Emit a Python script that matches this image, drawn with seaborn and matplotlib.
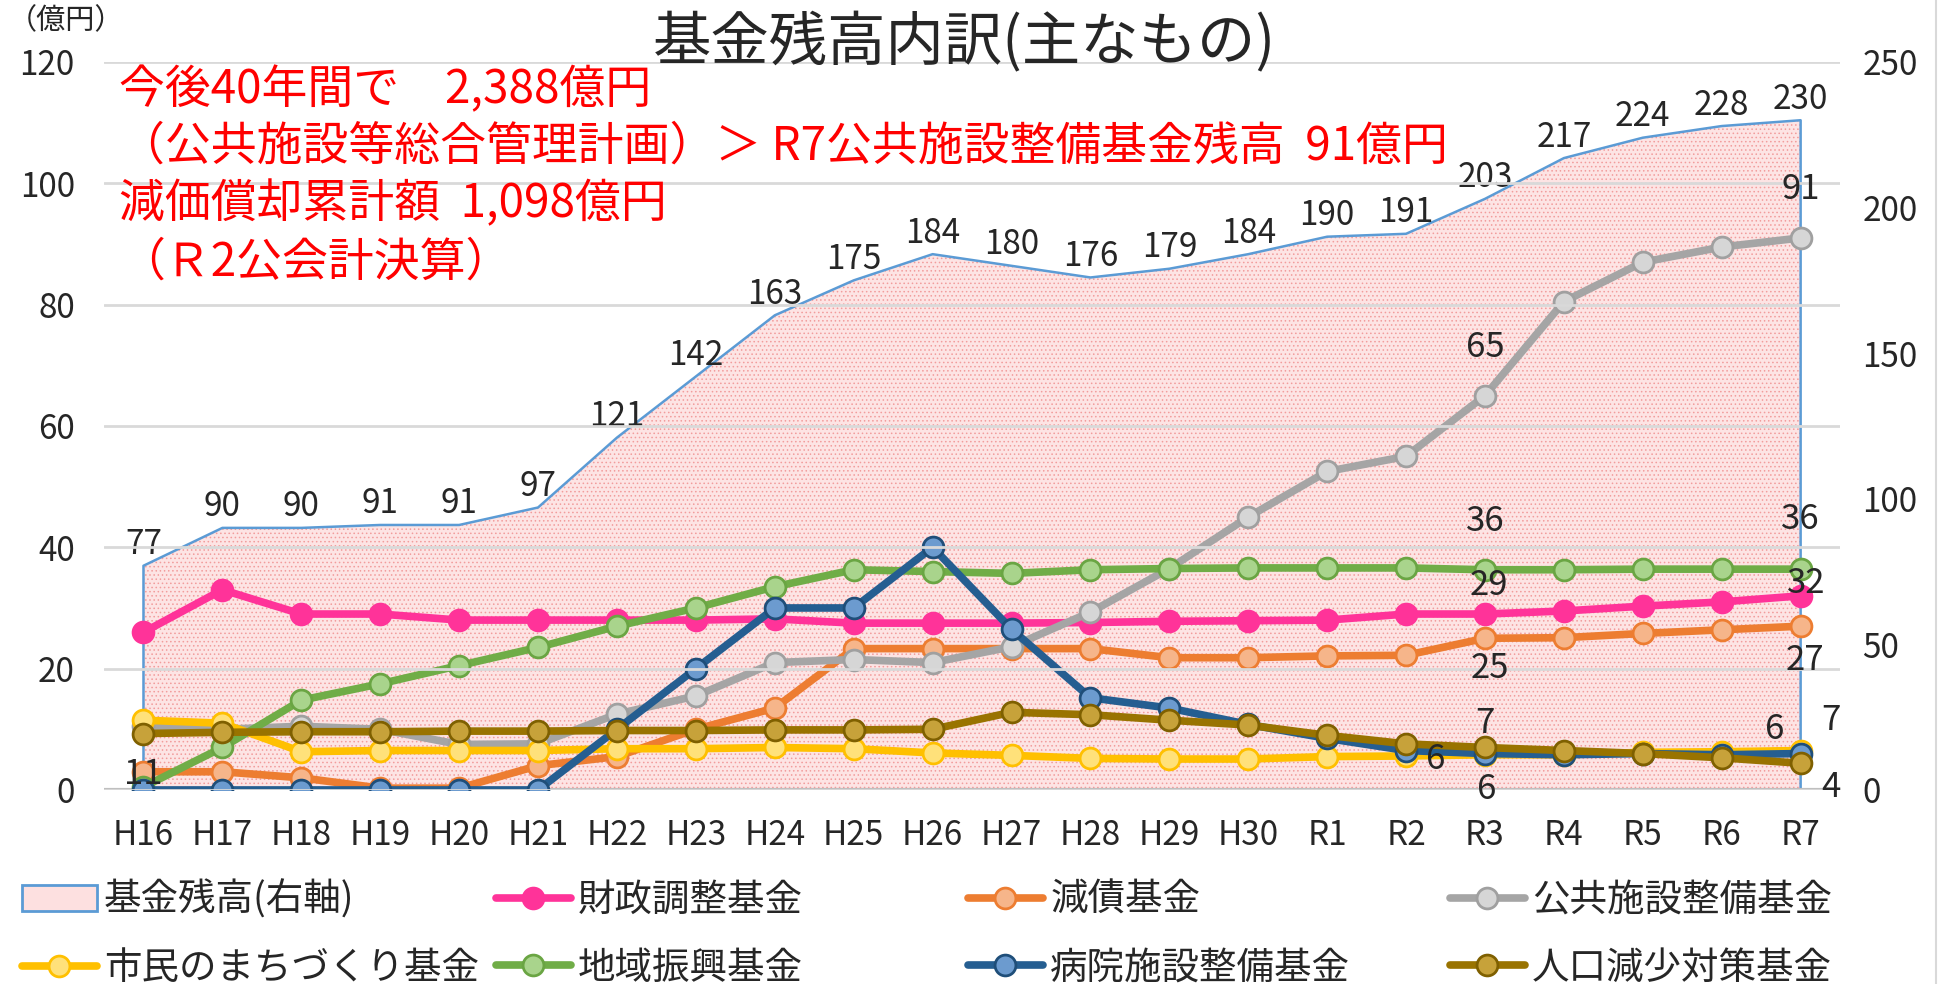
import matplotlib
matplotlib.use("Agg")
import matplotlib.pyplot as plt
import seaborn as sns
from matplotlib.patches import Rectangle
from matplotlib.lines import Line2D

# categories (fiscal years)
years = ['H16', 'H17', 'H18', 'H19', 'H20', 'H21', 'H22', 'H23', 'H24', 'H25', 'H26',
         'H27', 'H28', 'H29', 'H30', 'R1', 'R2', 'R3', 'R4', 'R5', 'R6', 'R7']

# total fund balance (right axis)
total = [77, 90, 90, 91, 91, 97, 121, 142, 163, 175, 184, 180, 176, 179, 184, 190, 191, 203, 217, 224, 228, 230]

# individual funds (left axis)
zaisei = [26, 33, 29, 29, 28, 28, 28, 28, 28.2, 27.5, 27.5, 27.5, 27.6, 27.8, 27.9, 28, 29, 29, 29.5, 30.3, 31, 32]
gensai = [3, 3, 2, 0.3, 0.3, 4, 5.5, 10, 13.5, 23.3, 23.3, 23.3, 23.3, 21.8, 21.8, 22.1, 22.2, 25, 25.1, 25.8, 26.4, 27]
koukyou = [10.5, 10, 10.5, 10, 7.5, 7.6, 12.5, 15.5, 21, 21.5, 21, 23.6, 29.3, 36.5, 45, 52.5, 55, 65, 80.5, 87, 89.5, 91]
machi = [11.5, 11, 6.3, 6.5, 6.5, 6.5, 6.8, 6.8, 7, 6.8, 6.1, 5.7, 5.2, 5.1, 5.1, 5.5, 5.6, 5.8, 5.8, 6.2, 6.3, 6.5]
chiiki = [0.5, 7, 14.8, 17.5, 20.5, 23.5, 27, 30, 33.5, 36.3, 36, 35.7, 36.3, 36.5, 36.6, 36.6, 36.6, 36.3, 36.3, 36.4, 36.4, 36.4]
byouin = [0, 0, 0, 0, 0, 0, 10, 20, 30, 30, 40, 26.5, 15.2, 13.5, 10.8, 8.5, 6.5, 6, 5.8, 6, 5.8, 6]
jinkou = [9.3, 9.5, 9.6, 9.6, 9.7, 9.7, 9.8, 9.8, 9.9, 9.9, 10, 12.8, 12.4, 11.5, 10.7, 9, 7.6, 7, 6.5, 6, 5.3, 4.4]

note_lines = ['今後40年間で　2,388億円',
              '（公共施設等総合管理計画）＞ R7公共施設整備基金残高  91億円',
              '減価償却累計額  1,098億円',
              '（Ｒ2公会計決算）']

x_pos = list(range(len(years)))

# name, values, line colour, marker face, marker edge
series = [
    ('財政調整基金', zaisei, '#FF3399', '#FF3399', '#FF3399'),
    ('減債基金', gensai, '#ED7D31', '#F6B58A', '#ED7D31'),
    ('公共施設整備基金', koukyou, '#A5A5A5', '#D6D6D6', '#A0A0A0'),
    ('市民のまちづくり基金', machi, '#FFC000', '#FFE17A', '#FFC000'),
    ('地域振興基金', chiiki, '#70AD47', '#A9D48C', '#6AA543'),
    ('病院施設整備基金', byouin, '#255E91', '#6C9BCF', '#1F4E79'),
    ('人口減少対策基金', jinkou, '#997300', '#C7A23A', '#7F6000'),
]

sns.set_style('white')
plt.rcParams['font.family'] = ['Noto Sans CJK JP', 'DejaVu Sans']
plt.rcParams['hatch.linewidth'] = 0.6

fig = plt.figure(figsize=(19.59, 9.84), dpi=100)
ax = fig.add_axes([0.0531, 0.1972, 0.8862, 0.7398])
ax2 = ax.twinx()
ax.set_zorder(ax2.get_zorder() + 1)
ax.patch.set_visible(False)

# total balance as hatched area on the right axis
ax2.fill_between(x_pos, 0, total, facecolor='#FDE4E4', hatch='....', edgecolor='#F29C9C', linewidth=0)
ax2.fill_between(x_pos, 0, total, facecolor='none', edgecolor='#5B9BD5', linewidth=1.8)
for i, v in enumerate(total):
    ax2.annotate(str(v), (i, v), xytext=(0, 21), textcoords='offset pixels',
                 ha='center', va='center', fontsize=24)

for name, vals, col, face, edge in series:
    sns.lineplot(x=x_pos, y=vals, ax=ax, color=col, linewidth=5.5, marker='o', markersize=15,
                 markerfacecolor=face, markeredgecolor=edge, markeredgewidth=2, label=name)

if ax.get_legend() is not None:
    ax.get_legend().remove()

# data labels at R3 / R7 (and H16 for 市民)
labels = [
    (koukyou, 17, '65', 0, 48), (koukyou, 21, '91', 0, 48),
    (chiiki, 17, '36', 0, 48), (chiiki, 21, '36', 0, 50),
    (zaisei, 17, '29', 4, 29), (zaisei, 21, '32', 6, 12),
    (gensai, 17, '25', 5, -30), (gensai, 21, '27', 4, -34),
    (jinkou, 17, '7', 0, 24), (jinkou, 21, '4', 30, -24),
    (byouin, 17, '6', 2, -36), (byouin, 21, '6', -26, 24),
    (machi, 16, '6', 30, -4), (machi, 21, '7', 30, 30),
    (machi, 0, '11', 0, -54),
]
for vals, idx, txt, dx, dy in labels:
    ax.annotate(txt, (idx, vals[idx]), xytext=(dx, dy), textcoords='offset pixels',
                ha='center', va='center', fontsize=25)

ax.set_xlim(-0.5, len(years) - 0.5)
ax.set_ylim(0, 120)
ax2.set_ylim(0, 250)
ax.set_yticks(range(0, 121, 20))
ax2.set_yticks(range(0, 251, 50))
ax.set_xticks(x_pos)
ax.set_xticklabels(years)
ax.tick_params(axis='x', length=0, pad=20, labelsize=24)
ax.tick_params(axis='y', length=0, pad=21, labelsize=24)
ax2.tick_params(axis='y', length=0, pad=16, labelsize=24)
ax.grid(axis='y', color='#D9D9D9', linewidth=2)
ax.set_axisbelow(False)
for a in (ax, ax2):
    for s in ('top', 'left', 'right', 'bottom'):
        a.spines[s].set_visible(False)
ax.axhline(0, color='#BFBFBF', linewidth=3, zorder=1)
ax.set_xlabel('')
ax.set_ylabel('')

# titles and notes
fig.text(0.4925, 0.955, '基金残高内訳(主なもの)', ha='center', va='center', fontsize=42)
fig.text(0.004, 0.978, '（億円）', ha='left', va='center', fontsize=21)
for line, yy in zip(note_lines, [0.9085, 0.8516, 0.7927, 0.7337]):
    fig.text(0.061, yy, line, ha='left', va='center', fontsize=33, color='#FF0000')

# legend in four columns
line_handles, line_labels = ax.get_legend_handles_labels()
hmap = dict(zip(line_labels, line_handles))
area_handle = Rectangle((0, 0), 1, 1, facecolor='#FDE0E0', edgecolor='#5B9BD5', linewidth=2)
columns = [
    ([area_handle, hmap['市民のまちづくり基金']], ['基金残高(右軸)', '市民のまちづくり基金'], 0.011),
    ([hmap['財政調整基金'], hmap['地域振興基金']], ['財政調整基金', '地域振興基金'], 0.253),
    ([hmap['減債基金'], hmap['病院施設整備基金']], ['減債基金', '病院施設整備基金'], 0.494),
    ([hmap['公共施設整備基金'], hmap['人口減少対策基金']], ['公共施設整備基金', '人口減少対策基金'], 0.740),
]
for hs, ls, xl in columns:
    fig.legend(hs, ls, loc='upper left', bbox_to_anchor=(xl, 0.105), frameon=False, fontsize=27,
               handlelength=2.0, handletextpad=0.2, labelspacing=0.77, borderpad=0, borderaxespad=0)

fig.add_artist(Line2D([0.9885, 0.9885], [0.0, 1.0], color='#D9D9D9', linewidth=1.5))

fig.savefig('out.png', dpi=100)
